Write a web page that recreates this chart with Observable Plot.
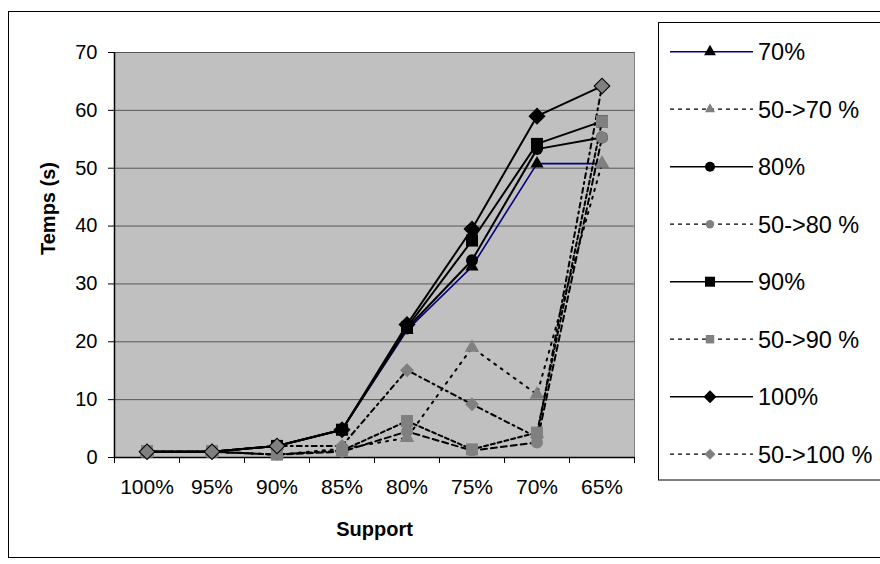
<!DOCTYPE html>
<html><head><meta charset="utf-8">
<script src="https://cdn.jsdelivr.net/npm/d3@7"></script>
<script src="https://cdn.jsdelivr.net/npm/@observablehq/plot@0.6"></script>
<style>
body{margin:0;background:#fff;font-family:"Liberation Sans",Arial,sans-serif;}
#wrap{position:relative;width:880px;height:564px;overflow:hidden;background:#fff;}
#border{position:absolute;left:8px;top:11px;width:900px;height:547px;border:1px solid #000;box-sizing:border-box;}
#chart{position:absolute;left:0;top:0;}
#legend{position:absolute;left:0;top:0;}
</style></head>
<body><div id="wrap"><div id="border"></div><div id="chart"></div><svg id="legend" width="880" height="564"></svg></div>
<script>
// ---- data ----
const categories = ["100%","95%","90%","85%","80%","75%","70%","65%"];
const yTicks = [0,10,20,30,40,50,60,70];
const seriesNames = ["70%","50->70 %","80%","50->80 %","90%","50->90 %","100%","50->100 %"];
const s70     = [1,1,2,4.8,22,33,50.8,50.8];
const s50_70  = [1,1,0.5,1.5,3.4,19,10.9,50.8];
const s80     = [1,1,2,4.8,22.3,34.1,53.3,55.3];
const s50_80  = [1,1,0.5,1,4.5,1.2,2.6,55.3];
const s90     = [1,1,2,4.8,22.5,37.5,54.2,58.1];
const s50_90  = [1,1,0.5,1.2,6.3,1.4,4.3,58.1];
const s100    = [1,1,2,4.8,23,39.5,59,64.2];
const s50_100 = [1,1,2,2,15.1,9.2,3.5,64.2];
const seriesValues = [s70,s50_70,s80,s50_80,s90,s50_90,s100,s50_100];

// ---- styles ----
const styles = [
  {stroke:"#000080", sw:1.6, dash:null, symbol:"triangle", fill:"#000", r:4.9},
  {stroke:"#000", sw:2, dash:"2,6", symbol:"triangle", fill:"#808080", r:5.4},
  {stroke:"#000", sw:2, dash:null, symbol:"circle", fill:"#000", r:6},
  {stroke:"#000", sw:2, dash:"6,4", symbol:"circle", fill:"#808080", r:6},
  {stroke:"#000", sw:2, dash:null, symbol:"square", fill:"#000", r:6.8},
  {stroke:"#000", sw:2, dash:"4,3", symbol:"square", fill:"#808080", r:6.8},
  {stroke:"#000", sw:2, dash:null, symbol:"diamond2", fill:"#000", r:7.7},
  {stroke:"#000", sw:2, dash:"5,4,2,4", symbol:"diamond2", fill:"#808080", r:6.3}
];

const rows = seriesNames.map((name, s) => categories.map((c, i) => ({series: name, idx: i, value: seriesValues[s][i]})));

const lineMarks = rows.map((d, s) => Plot.line(d, {x:"idx", y:"value", stroke: styles[s].stroke, strokeWidth: styles[s].sw, strokeDasharray: styles[s].dash}));
const dotMarks = rows.map((d, s) => Plot.dot(d, {x:"idx", y:"value", symbol: styles[s].symbol, r: styles[s].r, fill: styles[s].fill, stroke:"none"}));

const chart = Plot.plot({
  width: 880, height: 564,
  marginLeft: 114, marginRight: 246, marginTop: 52, marginBottom: 107,
  style: {fontFamily: "'Liberation Sans', Arial, sans-serif", color:"#000", background:"transparent"},
  x: {type:"linear", domain:[-0.5, 7.5]},
  y: {type:"linear", domain:[0, 70]},
  marks: [
    Plot.frame({fill:"#C0C0C0", stroke:"#808080"}),
    Plot.ruleY(yTicks.filter(t => t > 0), {stroke:"#555", strokeWidth:1}),
    Plot.ruleX([-0.5], {stroke:"#000", strokeWidth:1.5}),
    Plot.ruleY([0], {stroke:"#000", strokeWidth:1.5}),
    Plot.axisY({ticks: yTicks, tickSize: 6, tickPadding: 11, fontSize: 20, label: null, tickFormat: d => d}),
    Plot.axisX({ticks: d3.range(-0.5, 8, 1), tickSize: 6, tickFormat: () => "", label: null}),
    Plot.axisX({ticks: d3.range(0, 8), tickSize: 0, tickPadding: 22, fontSize: 21, label: null, tickFormat: i => categories[i]}),
    Plot.text(["Support"], {frameAnchor:"bottom", dy: 78, fontSize: 20, fontWeight:"bold", fill:"#000"}),
    Plot.text(["Temps (s)"], {frameAnchor:"left", dx: -66, rotate: -90, fontSize: 20, fontWeight:"bold", fill:"#000"}),
    ...lineMarks,
    ...dotMarks
  ]
});
document.getElementById("chart").appendChild(chart);

// ---- legend ----
const lg = d3.select("#legend");
lg.append("rect").attr("x",658.5).attr("y",22.5).attr("width",300).attr("height",457.5).attr("fill","#fff").attr("stroke","#000");
const symMap = {triangle: d3.symbolTriangle, circle: d3.symbolCircle, square: d3.symbolSquare, diamond2: d3.symbolDiamond2};
const legSize = {triangle: 62, circle: 78, square: 100, diamond2: 108};
seriesNames.forEach((name, s) => {
  const st = styles[s];
  const y = 51.7 + s * 57.5;
  const g = lg.append("g");
  g.append("line").attr("x1",670).attr("x2",753).attr("y1",y).attr("y2",y)
    .attr("stroke", st.stroke).attr("stroke-width", st.dash ? 1.2 : 1.6)
    .attr("stroke-dasharray", st.dash ? "4,4" : null);
  const size = st.dash ? legSize[st.symbol] * 0.72 : legSize[st.symbol];
  g.append("path").attr("d", d3.symbol(symMap[st.symbol], size)()).attr("transform", `translate(710,${y})`).attr("fill", st.fill);
  g.append("text").attr("x",758).attr("y",y).attr("dy","0.36em").attr("font-size",23.5)
    .attr("font-family","'Liberation Sans', Arial, sans-serif").attr("fill","#000").text(name);
});
</script></body></html>
